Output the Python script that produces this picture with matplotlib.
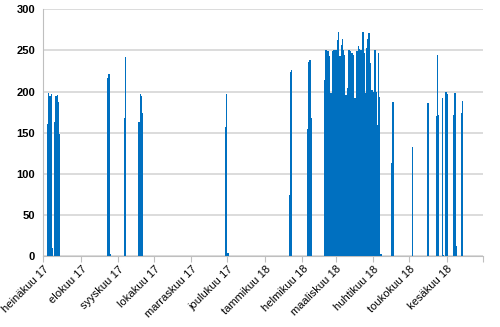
import numpy as np
import pandas as pd
import matplotlib
matplotlib.use("Agg")
import matplotlib.pyplot as plt
import matplotlib.dates as mdates
from matplotlib.transforms import blended_transform_factory, offset_copy

# yksittäiset päivät
sparse_dates = [
    "2017-07-04", "2017-07-05", "2017-07-06", "2017-07-07", "2017-07-08",
    "2017-07-10", "2017-07-11", "2017-07-12", "2017-07-13", "2017-07-14",
    "2017-08-23", "2017-08-24", "2017-08-25",
    "2017-09-06", "2017-09-07", "2017-09-08",
    "2017-09-18", "2017-09-19", "2017-09-20", "2017-09-21",
    "2017-11-29", "2017-11-30", "2017-12-01",
    "2018-01-21", "2018-01-22", "2018-01-23",
    "2018-02-05", "2018-02-06", "2018-02-07", "2018-02-08",
    "2018-04-16", "2018-04-17",
    "2018-05-03", "2018-05-16",
    "2018-05-23", "2018-05-24", "2018-05-25",
    "2018-05-28", "2018-05-29",
    "2018-05-31", "2018-06-01", "2018-06-02",
    "2018-06-06", "2018-06-07", "2018-06-08", "2018-06-09",
    "2018-06-13", "2018-06-14",
]
sparse_values = [
    161, 198, 195, 197, 10,
    163, 195, 196, 188, 149,
    216, 222, 3,
    168, 242, 1,
    163, 197, 195, 174,
    157, 197, 4,
    75, 224, 226,
    155, 236, 239, 168,
    113, 187,
    133, 186,
    171, 245, 172,
    192, 2,
    200, 197, 1,
    172, 198, 198, 12,
    174, 189,
]

# yhtenäinen jakso helmi-huhtikuu
block_start = "2018-02-19"
block_values = [
    214, 251, 251, 249, 243, 198, 198, 249, 250, 251,
    251, 263, 272, 243, 257, 264, 251, 245, 196, 204,
    251, 251, 249, 247, 245, 192, 192, 249, 255, 252,
    251, 251, 273, 247, 198, 253, 264, 271, 235, 202,
    202, 199, 251, 200, 160, 247, 194, 3,
]

month_labels = [
    "heinäkuu 17", "elokuu 17", "syyskuu 17", "lokakuu 17", "marraskuu 17",
    "joulukuu 17", "tammikuu 18", "helmikuu 18", "maaliskuu 18",
    "huhtikuu 18", "toukokuu 18", "kesäkuu 18",
]

dates = list(pd.to_datetime(sparse_dates)) + list(
    pd.date_range(block_start, periods=len(block_values), freq="D"))
values = sparse_values + block_values

plt.rcParams["font.family"] = ["Liberation Sans", "DejaVu Sans"]

fig = plt.figure(figsize=(5, 3.27), dpi=100)
ax = fig.add_axes([0.0866, 0.216, 0.8788, 0.7556])

ax.bar(mdates.date2num(dates), values, width=1.0, align="edge",
       color="#0070C0", linewidth=0, zorder=3)

ax.set_ylim(0, 300)
ax.set_yticks(range(0, 301, 50))
ax.yaxis.grid(True, color="#D9D9D9", linewidth=1.3, zorder=0)
ax.set_axisbelow(True)

month_ticks = pd.date_range("2017-07-01", "2018-07-01", freq="MS")
tick_nums = mdates.date2num(month_ticks)
ax.set_xlim(tick_nums[0], tick_nums[-1])
ax.set_xticks(tick_nums)
ax.set_xticklabels([])

trans = offset_copy(blended_transform_factory(ax.transData, ax.transAxes),
                    fig=fig, x=3, y=-8, units="points")
for t, lab in zip(tick_nums[:-1], month_labels):
    ax.text(t, 0, lab, transform=trans, rotation=45, ha="right", va="center",
            rotation_mode="anchor", fontsize=8, color="#000000")

for s in ["top", "right"]:
    ax.spines[s].set_visible(False)
ax.spines["left"].set_color("#BFBFBF")
ax.spines["bottom"].set_color("#BFBFBF")
ax.tick_params(axis="x", length=4, color="#BFBFBF")
ax.tick_params(axis="y", length=0, pad=6, labelsize=8)
for lbl in ax.get_yticklabels():
    lbl.set_fontweight("bold")

fig.savefig("out.png", dpi=100)
